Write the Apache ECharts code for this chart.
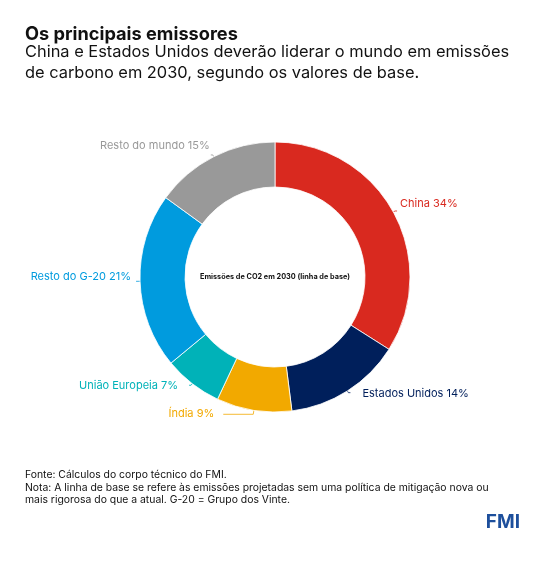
<!DOCTYPE html>
<html>
<head>
<meta charset="utf-8">
<script src="https://cdn.jsdelivr.net/npm/echarts@6/dist/echarts.min.js"></script>
<style>
  html, body { margin: 0; padding: 0; background: #fff; }
  #chart { width: 550px; height: 563px; }
</style>
</head>
<body>
<div id="chart"></div>
<script>
(function(){
    // data
    let categories = ['China', 'Estados Unidos', 'Índia', 'União Europeia', 'Resto do G-20', 'Resto do mundo'];
    let shares = [34, 14, 9, 7, 21, 15];
    let colors = ['#d9291f', '#001f5b', '#f2a900', '#00b2b8', '#009bde', '#999999'];

    let fontFamily = 'Inter, "Noto Sans", sans-serif';

    // small label nudges so the labels sit like in the original
    let _labelNudge = {
        'China':          { dx: -2, dy: -7 },
        'Estados Unidos': { dx: 7,  dy: 1 },
        'Índia':          { dx: -4, dy: -1 },
        'União Europeia': { dx: -6, dy: 0 },
        'Resto do G-20':  { dx: 0,  dy: -5 },
        'Resto do mundo': { dx: 4,  dy: -9 }
    };

    let seriesData = categories.map((name, i) => {
        let item = {
            name: name,
            value: shares[i],
            itemStyle: { color: colors[i] },
            label: { color: colors[i] },
            labelLine: { lineStyle: { color: colors[i] } }
        };
        // india's label sits further left in the original
        if (name === 'Índia'){
            item.labelLine.length = 4;
            item.labelLine.length2 = 30;
        }
        return item;
    });

    let chart = echarts.init(document.getElementById('chart'));

    chart.setOption({
        animation: false,
        textStyle: { fontFamily: fontFamily },
        title: [
            {
                text: 'Os principais emissores',
                left: 25, top: 26, padding: 0,
                textStyle: { fontSize: 18.2, fontWeight: 'bold', color: '#111', fontFamily: fontFamily }
            },
            {
                text: 'China e Estados Unidos deverão liderar o mundo em emissões\nde carbono em 2030, segundo os valores de base.',
                left: 25, top: 42, padding: 0,
                textStyle: { fontSize: 16.4, fontWeight: 'normal', color: '#111', lineHeight: 21, fontFamily: fontFamily }
            },
            {
                text: 'Fonte: Cálculos do corpo técnico do FMI.\nNota: A linha de base se refere às emissões projetadas sem uma política de mitigação nova ou\nmais rigorosa do que a atual. G-20 = Grupo dos Vinte.',
                left: 25, top: 469, padding: 0,
                textStyle: { fontSize: 10.4, fontWeight: 'normal', color: '#111', lineHeight: 12.5, fontFamily: fontFamily }
            },
            {
                text: 'FMI',
                right: 30, top: 513, padding: 0,
                textStyle: { fontSize: 19, fontWeight: 'bold', color: '#1d4f9c', fontFamily: fontFamily }
            },
            {
                text: 'Emissões de CO2 em 2030 (linha de base)',
                left: 275, top: 273, textAlign: 'center', padding: 0,
                textStyle: { fontSize: 7.3, fontWeight: 'bold', color: '#111', fontFamily: fontFamily }
            }
        ],
        series: [
            {
                type: 'pie',
                center: [275, 277],
                radius: [90, 135],
                startAngle: 90,
                clockwise: true,
                avoidLabelOverlap: false,
                itemStyle: { borderColor: '#ffffff', borderWidth: 0.8 },
                label: {
                    show: true,
                    position: 'outside',
                    formatter: '{b} {c}%',
                    fontSize: 11,
                    fontFamily: fontFamily
                },
                labelLine: {
                    show: true,
                    length: 2,
                    length2: 2,
                    lineStyle: { width: 0.8 }
                },
                labelLayout: function(params){
                    let nudge = _labelNudge[categories[params.dataIndex]] || { dx: 0, dy: 0 };
                    return { dx: nudge.dx, dy: nudge.dy };
                },
                data: seriesData
            }
        ]
    });
})();
</script>
</body>
</html>
